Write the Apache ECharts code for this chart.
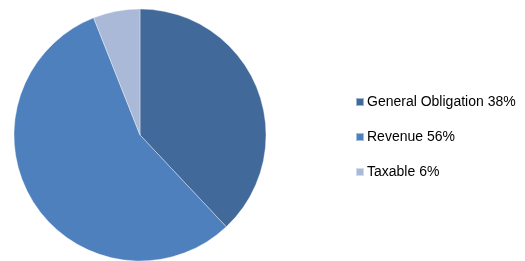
<!DOCTYPE html>
<html>
<head>
<meta charset="utf-8">
<script src="https://cdn.jsdelivr.net/npm/echarts@6/dist/echarts.min.js"></script>
<style>
  html, body { margin: 0; padding: 0; background: #fff; }
  #chart { width: 525px; height: 261px; }
</style>
</head>
<body>
<div id="chart"></div>
<script>
// categories and shares (percent)
var categories = ['General Obligation', 'Revenue', 'Taxable'];
var shares = [38, 56, 6];
var colors = ['#41699A', '#4E80BD', '#A9B9D7'];

var chart = echarts.init(document.getElementById('chart'));

var pieData = categories.map(function (name, i) {
  return { name: name, value: shares[i], itemStyle: { color: colors[i] } };
});

chart.setOption({
  animation: false,
  legend: {
    orient: 'vertical',
    left: 355,
    top: 95,
    padding: 0,
    itemWidth: 8,
    itemHeight: 8,
    itemGap: 21,
    icon: 'rect',
    selectedMode: false,
    formatter: function (name) {
      return name + ' ' + shares[categories.indexOf(name)] + '%';
    },
    textStyle: {
      fontFamily: 'Liberation Sans',
      fontSize: 14,
      color: '#000',
      padding: [0, 0, 0, -2]
    }
  },
  series: [{
    type: 'pie',
    center: [140, 135],
    radius: 126,
    startAngle: 90,
    clockwise: true,
    label: { show: false },
    labelLine: { show: false },
    emphasis: { disabled: true },
    itemStyle: { borderColor: 'rgba(255,255,255,0.5)', borderWidth: 0.7 },
    data: pieData
  }]
});
</script>
</body>
</html>
